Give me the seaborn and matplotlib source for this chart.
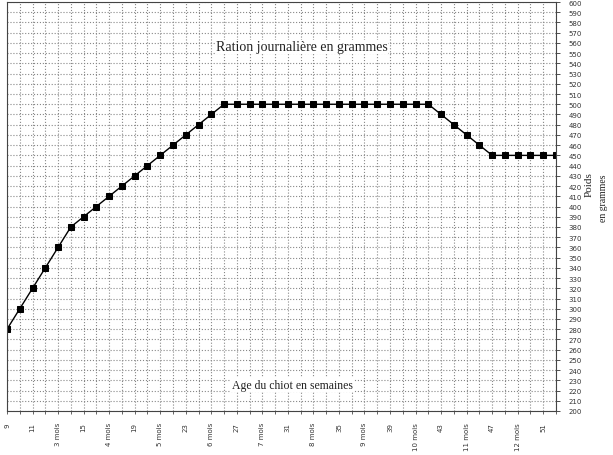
import matplotlib
matplotlib.use("Agg")
import matplotlib.pyplot as plt
import seaborn as sns
import pandas as pd
import numpy as np

# Data: daily ration (grams) by age in weeks
weeks = [9, 10, 11, 12, 13, 14, 15, 16, 17, 18, 19, 20, 21, 22, 23, 24, 25, 26,
         27, 28, 29, 30, 31, 32, 33, 34, 35, 36, 37, 38, 39, 40, 41, 42,
         43, 44, 45, 46, 47, 48, 49, 50, 51, 52]
ration = [280, 300, 320, 340, 360, 380, 390, 400, 410, 420, 430, 440, 450, 460, 470, 480, 490, 500,
          500, 500, 500, 500, 500, 500, 500, 500, 500, 500, 500, 500, 500, 500, 500, 500,
          490, 480, 470, 460, 450, 450, 450, 450, 450, 450]

xtick_pos = [9, 11, 13, 15, 17, 19, 21, 23, 25, 27, 29, 31, 33, 35, 37, 39, 41, 43, 45, 47, 49, 51]
xtick_labels = ["9", "11", "3 mois", "15", "4 mois", "19", "5 mois", "23", "6 mois", "27",
                "7 mois", "31", "8 mois", "35", "9 mois", "39", "10 mois", "43", "11 mois",
                "47", "12 mois", "51"]
ytick_vals = list(range(200, 601, 10))

title_top = "Ration journalière en grammes"
title_bottom = "Age du chiot en semaines"
ylab1 = "Poids"
ylab2 = "en grammes"

df = pd.DataFrame({"semaine": weeks, "ration": ration})

sns.set_theme(style="white")
plt.rcParams["font.family"] = ["DejaVu Sans"]

W, H = 613, 456
fig = plt.figure(figsize=(W / 100, H / 100), dpi=100)
ax = fig.add_axes([7 / W, 1 - 412 / H, (556 - 7) / W, (412 - 3) / H])

sns.lineplot(data=df, x="semaine", y="ration", ax=ax, color="black", linewidth=1.0,
             marker="s", markersize=4.2, markeredgecolor="black", markerfacecolor="black")

ax.set_xlim(9, 52)
ax.set_ylim(200, 600)

ax.set_xticks(xtick_pos)
ax.set_xticklabels(xtick_labels, rotation=90, fontsize=5, color="#333333")
ax.set_xticks(weeks, minor=True)
ax.set_yticks(ytick_vals)
ax.set_yticklabels([str(v) for v in ytick_vals], fontsize=5, color="#333333")
ax.yaxis.tick_right()
ax.tick_params(axis="y", which="major", right=True, length=3, width=0.6, pad=6, colors="#333333")
ax.tick_params(axis="x", which="both", bottom=True, length=2, width=0.5, pad=6)
ax.tick_params(axis="x", which="major", labelcolor="#333333")

ax.grid(True, which="both", axis="x", color="#888888", linestyle=":", linewidth=0.8)
ax.grid(True, which="major", axis="y", color="#888888", linestyle=":", linewidth=0.8)

for s in ax.spines.values():
    s.set_visible(True)
    s.set_color("#444444")
    s.set_linewidth(0.8)

ax.set_xlabel("")
ax.set_ylabel("")

serif = ["Liberation Serif", "DejaVu Serif"]
ax.text(0.537, 0.89, title_top, transform=ax.transAxes, ha="center", va="center",
        fontsize=10, family=serif, color="#222222",
        bbox=dict(facecolor="white", edgecolor="none", pad=0.5))
ax.text(0.52, 0.064, title_bottom, transform=ax.transAxes, ha="center", va="center",
        fontsize=8.5, family=serif, color="#222222",
        bbox=dict(facecolor="white", edgecolor="none", pad=0.5))

fig.text(589 / W, 1 - 185 / H, ylab1, rotation=90, ha="center", va="center",
         fontsize=8, family=serif, color="#222222")
fig.text(603 / W, 1 - 198 / H, ylab2, rotation=90, ha="center", va="center",
         fontsize=7, family=serif, color="#222222")

fig.savefig("out.png", dpi=100, facecolor="white")
